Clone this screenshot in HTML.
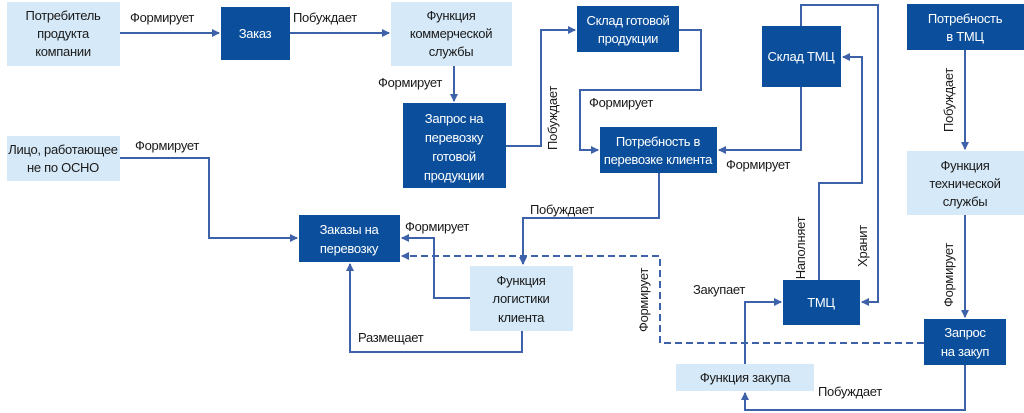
<!DOCTYPE html>
<html><head><meta charset="utf-8"><style>
html,body{margin:0;padding:0;background:#fff;}
svg{display:block;}
text{font-family:"Liberation Sans Narrow","Liberation Sans","DejaVu Sans Condensed",sans-serif;font-size:13px;letter-spacing:-0.3px;fill:#1a1a1a;}
.w{fill:#fff;}
.ln{fill:none;stroke:#3d62a9;stroke-width:2;}
.d{fill:#0b4f9c;}
.l{fill:#d5e9f8;}
</style></head><body>
<svg width="1024" height="413" viewBox="0 0 1024 413" xmlns="http://www.w3.org/2000/svg">
<defs><marker id="a" markerWidth="8" markerHeight="8" refX="7" refY="4" orient="auto" markerUnits="userSpaceOnUse"><path d="M0,0 L8,4 L0,8 z" fill="#3d62a9"/></marker></defs>

<rect class="l" x="7" y="2" width="113" height="64"/>
<rect class="d" x="221" y="7" width="69" height="53"/>
<rect class="l" x="391" y="2" width="121" height="64"/>
<rect class="d" x="403" y="103" width="103" height="85"/>
<rect class="l" x="7" y="136" width="113" height="45"/>
<rect class="d" x="577" y="6" width="102" height="46"/>
<rect class="d" x="762" y="26" width="79" height="61"/>
<rect class="d" x="907" y="4" width="117" height="46"/>
<rect class="d" x="600" y="127" width="117" height="46"/>
<rect class="l" x="907" y="151" width="117" height="64"/>
<rect class="d" x="299" y="215" width="101" height="47"/>
<rect class="l" x="470" y="266" width="103" height="65"/>
<rect class="d" x="783" y="280" width="77" height="45"/>
<rect class="d" x="924" y="319" width="82" height="46"/>
<rect class="l" x="676" y="364" width="138" height="27"/>

<path class="ln" d="M120,33 H219" marker-end="url(#a)"/>
<path class="ln" d="M290,33 H389" marker-end="url(#a)"/>
<path class="ln" d="M454,66 V101" marker-end="url(#a)"/>
<path class="ln" d="M506,146 H541 V30 H575" marker-end="url(#a)"/>
<path class="ln" d="M679,30 H701 V90 H580 V150 H598" marker-end="url(#a)"/>
<path class="ln" d="M801,87 V150 H719" marker-end="url(#a)"/>
<path class="ln" d="M801,26 V5 H878 V302 H862" marker-end="url(#a)"/>
<path class="ln" d="M819,280 V183 H862 V57 H843" marker-end="url(#a)"/>
<path class="ln" d="M965,50 V149" marker-end="url(#a)"/>
<path class="ln" d="M965,215 V317" marker-end="url(#a)"/>
<path class="ln" d="M965,365 V410 H745 V393" marker-end="url(#a)"/>
<path class="ln" d="M745,364 V302 H781" marker-end="url(#a)"/>
<path class="ln" d="M924,343 H660 V256 H402" stroke-dasharray="7,4" marker-end="url(#a)"/>
<path class="ln" d="M659,173 V218 H523 V264" marker-end="url(#a)"/>
<path class="ln" d="M470,298 H434 V238 H402" marker-end="url(#a)"/>
<path class="ln" d="M522,331 V352 H350 V264" marker-end="url(#a)"/>
<path class="ln" d="M120,158 H209 V238 H297" marker-end="url(#a)"/>

<g text-anchor="middle">
<text x="63" y="20">Потребитель</text><text x="63" y="38">продукта</text><text x="63" y="56">компании</text>
<text class="w" x="255" y="38">Заказ</text>
<text x="451" y="20">Функция</text><text x="451" y="38">коммерческой</text><text x="451" y="56">службы</text>
<text class="w" x="454" y="123">Запрос на</text><text class="w" x="454" y="142">перевозку</text><text class="w" x="454" y="161">готовой</text><text class="w" x="454" y="180">продукции</text>
<text x="63" y="154">Лицо, работающее</text><text x="63" y="172">не по ОСНО</text>
<text class="w" x="628" y="25">Склад готовой</text><text class="w" x="628" y="43">продукции</text>
<text class="w" x="801" y="61">Склад ТМЦ</text>
<text class="w" x="965" y="23">Потребность</text><text class="w" x="965" y="41">в ТМЦ</text>
<text class="w" x="658" y="146">Потребность в</text><text class="w" x="658" y="164">перевозке клиента</text>
<text x="965" y="170">Функция</text><text x="965" y="188">технической</text><text x="965" y="206">службы</text>
<text class="w" x="349" y="234">Заказы на</text><text class="w" x="349" y="253">перевозку</text>
<text x="521" y="285">Функция</text><text x="521" y="303">логистики</text><text x="521" y="322">клиента</text>
<text class="w" x="821" y="307">ТМЦ</text>
<text class="w" x="965" y="337">Запрос</text><text class="w" x="965" y="356">на закуп</text>
<text x="745" y="382">Функция закупа</text>
</g>

<text x="130" y="22">Формирует</text>
<text x="293" y="22">Побуждает</text>
<text x="378" y="87">Формирует</text>
<text x="589" y="107">Формирует</text>
<text x="726" y="169">Формирует</text>
<text x="135" y="150">Формирует</text>
<text x="530" y="214">Побуждает</text>
<text x="405" y="231">Формирует</text>
<text x="358" y="342">Размещает</text>
<text x="693" y="294">Закупает</text>
<text x="818" y="396">Побуждает</text>
<text transform="translate(557,118) rotate(-90)" text-anchor="middle">Побуждает</text>
<text transform="translate(953,100) rotate(-90)" text-anchor="middle">Побуждает</text>
<text transform="translate(953,275) rotate(-90)" text-anchor="middle">Формирует</text>
<text transform="translate(648,300) rotate(-90)" text-anchor="middle">Формирует</text>
<text transform="translate(805,248) rotate(-90)" text-anchor="middle">Наполняет</text>
<text transform="translate(867,246) rotate(-90)" text-anchor="middle">Хранит</text>
</svg>
</body></html>
